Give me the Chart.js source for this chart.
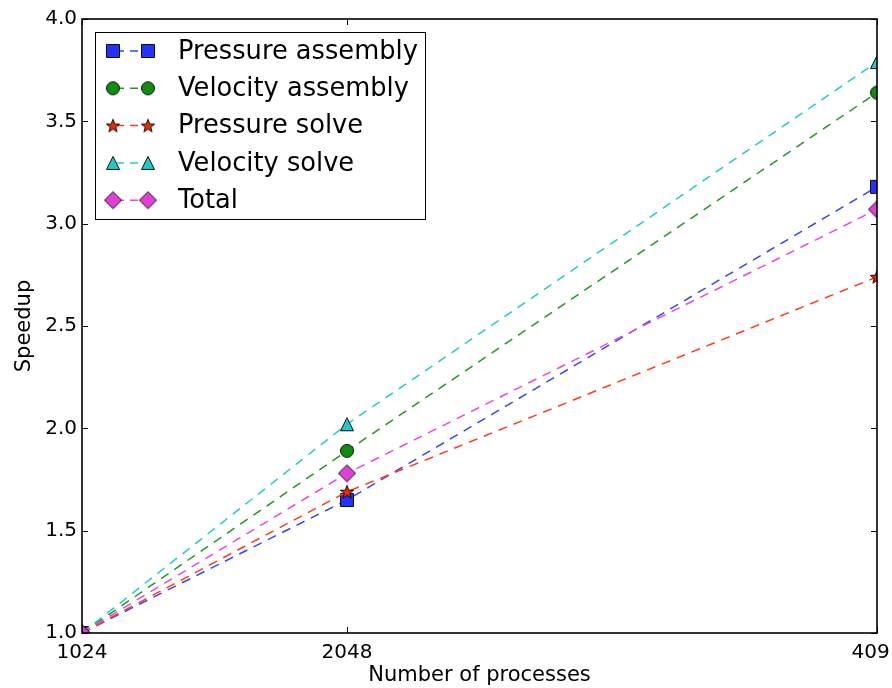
<!DOCTYPE html>
<html>
<head>
<meta charset="utf-8">
<script src="https://cdn.jsdelivr.net/npm/chart.js@4/dist/chart.umd.min.js"></script>
<style>
  html, body { margin: 0; padding: 0; background: #fff; overflow: hidden; width: 892px; height: 688px; }
  #clipper { position: absolute; left: 0; top: 0; width: 889px; height: 688px; overflow: hidden; }
  #wrap { position: absolute; left: 0; top: 0; width: 912px; height: 688px; }
  canvas { display: block; }
</style>
</head>
<body>
<div id="clipper"><div id="wrap"><canvas id="c" width="912" height="688"></canvas></div></div>
<script>
// ---- data ----
const processes = [1024, 2048, 4096];
const pressureAssembly = [1.0, 1.65, 3.18];
const velocityAssembly = [1.0, 1.89, 3.64];
const pressureSolve = [1.0, 1.69, 2.74];
const velocitySolve = [1.0, 2.02, 3.79];
const totalSpeedup = [1.0, 1.78, 3.07];
const seriesNames = ['Pressure assembly', 'Velocity assembly', 'Pressure solve', 'Velocity solve', 'Total'];
const yTickValues = [1.0, 1.5, 2.0, 2.5, 3.0, 3.5, 4.0];
const xTickValues = [1024, 2048, 4096];

// ---- marker images (matplotlib-like) ----
function makeMarker(kind, fill) {
  const c = document.createElement('canvas');
  c.width = 24; c.height = 24;
  const g = c.getContext('2d');
  const cx = 12, cy = 12;
  g.beginPath();
  if (kind === 'square') {
    g.rect(cx - 6.5, cy - 6.5, 13, 13);
  } else if (kind === 'circle') {
    g.arc(cx, cy, 6.5, 0, Math.PI * 2);
  } else if (kind === 'star') {
    const R = 7, r = 2.9;
    for (let k = 0; k < 10; k++) {
      const rad = (k % 2 === 0) ? R : r;
      const a = -Math.PI / 2 + k * Math.PI / 5;
      const px = cx + rad * Math.cos(a), py = cy + 0.6 + rad * Math.sin(a);
      if (k === 0) g.moveTo(px, py); else g.lineTo(px, py);
    }
    g.closePath();
  } else if (kind === 'triangle') {
    g.moveTo(cx, cy - 6.5);
    g.lineTo(cx + 6.5, cy + 6.5);
    g.lineTo(cx - 6.5, cy + 6.5);
    g.closePath();
  } else if (kind === 'diamond') {
    g.moveTo(cx, cy - 8.5);
    g.lineTo(cx + 8.5, cy);
    g.lineTo(cx, cy + 8.5);
    g.lineTo(cx - 8.5, cy);
    g.closePath();
  }
  g.fillStyle = fill;
  g.fill();
  g.lineWidth = 0.9;
  g.strokeStyle = '#000';
  g.stroke();
  return c;
}

const lineColors = ['#3344ff', '#229922', '#ff3b1a', '#22cccc', '#ea48dc'];
const markerFills = ['#2233ff', '#118b11', '#ee2a00', '#22c8c8', '#e23fd8'];
const markerKinds = ['square', 'circle', 'star', 'triangle', 'diamond'];
const markers = markerKinds.map((k, i) => makeMarker(k, markerFills[i]));
const seriesValues = [pressureAssembly, velocityAssembly, pressureSolve, velocitySolve, totalSpeedup];
const DASH = [9, 7];

const datasets = seriesValues.map((vals, i) => ({
  label: seriesNames[i],
  data: processes.map((x, j) => ({ x: x, y: vals[j] })),
  borderColor: lineColors[i],
  borderWidth: 1.5,
  borderDash: DASH,
  pointStyle: markers[i],
  pointRadius: 7,
  pointHoverRadius: 7,
  fill: false,
  tension: 0,
  clip: 0,
  order: seriesValues.length - i
}));

// ---- frame, inward ticks ----
const framePlugin = {
  id: 'frame',
  afterDatasetsDraw(chart) {
    const { ctx, chartArea: a, scales } = chart;
    ctx.save();
    ctx.strokeStyle = '#000';
    ctx.lineWidth = 1;
    ctx.beginPath();
    yTickValues.forEach(v => {
      const y = Math.round(scales.y.getPixelForValue(v)) + 0.5;
      ctx.moveTo(a.left, y); ctx.lineTo(a.left + 6, y);
      ctx.moveTo(a.right, y); ctx.lineTo(a.right - 6, y);
    });
    xTickValues.forEach(v => {
      const x = Math.round(scales.x.getPixelForValue(v)) + 0.5;
      ctx.moveTo(x, a.bottom); ctx.lineTo(x, a.bottom - 6);
      ctx.moveTo(x, a.top); ctx.lineTo(x, a.top + 6);
    });
    ctx.stroke();
    ctx.lineWidth = 1.6;
    ctx.strokeRect(a.left, a.top, a.right - a.left, a.bottom - a.top);
    ctx.restore();
  }
};

// ---- matplotlib-style legend ----
const legendPlugin = {
  id: 'mplLegend',
  afterDraw(chart) {
    const ctx = chart.ctx;
    const bx = 95.5, by = 32.5, bw = 330, bh = 187;
    ctx.save();
    ctx.fillStyle = '#fff';
    ctx.fillRect(bx, by, bw, bh);
    ctx.strokeStyle = '#000';
    ctx.lineWidth = 1;
    ctx.strokeRect(bx, by, bw, bh);
    chart.data.datasets.forEach((ds, i) => {
      const cy = 51 + i * 37.3;
      const x1 = 113, x2 = 148;
      ctx.save();
      ctx.strokeStyle = ds.borderColor;
      ctx.lineWidth = 1.5;
      ctx.setLineDash([8, 6]);
      ctx.lineDashOffset = -3;
      ctx.beginPath();
      ctx.moveTo(x1, cy); ctx.lineTo(x2, cy);
      ctx.stroke();
      ctx.restore();
      const img = ds.pointStyle;
      ctx.drawImage(img, x1 - img.width / 2, cy - img.height / 2);
      ctx.drawImage(img, x2 - img.width / 2, cy - img.height / 2);
      ctx.fillStyle = '#000';
      ctx.font = '25.7px "DejaVu Sans"';
      ctx.textBaseline = 'middle';
      ctx.textAlign = 'left';
      ctx.fillText(ds.label, 178, cy + 1);
    });
    ctx.restore();
  }
};

new Chart(document.getElementById('c'), {
  type: 'line',
  data: { datasets: datasets },
  options: {
    responsive: false,
    animation: false,
    events: [],
    layout: { padding: { left: 0, top: 19, right: 35, bottom: 0 } },
    plugins: { legend: { display: false }, tooltip: { enabled: false } },
    scales: {
      x: {
        type: 'linear',
        min: 1024,
        max: 4096,
        afterBuildTicks: s => { s.ticks = xTickValues.map(v => ({ value: v })); },
        afterFit: s => { s.height = 55; },
        grid: { display: false, drawTicks: false, tickLength: 0 },
        border: { display: false },
        ticks: {
          autoSkip: false,
          maxRotation: 0,
          padding: 8,
          color: '#000',
          font: { family: 'DejaVu Sans', size: 20 },
          callback: v => String(v)
        },
        title: {
          display: true,
          text: 'Number of processes',
          color: '#000',
          font: { family: 'DejaVu Sans', size: 21 },
          padding: { top: 0, bottom: 0 }
        }
      },
      y: {
        type: 'linear',
        min: 1.0,
        max: 4.0,
        afterBuildTicks: s => { s.ticks = yTickValues.map(v => ({ value: v })); },
        afterFit: s => { s.width = 82; },
        grid: { display: false, drawTicks: false, tickLength: 0 },
        border: { display: false },
        ticks: {
          padding: 5,
          color: '#000',
          font: { family: 'DejaVu Sans', size: 20 },
          callback: v => Number(v).toFixed(1)
        },
        title: {
          display: true,
          text: 'Speedup',
          color: '#000',
          font: { family: 'DejaVu Sans', size: 21 },
          padding: { top: 12, bottom: 0 }
        }
      }
    }
  },
  plugins: [framePlugin, legendPlugin]
});
</script>
</body>
</html>
